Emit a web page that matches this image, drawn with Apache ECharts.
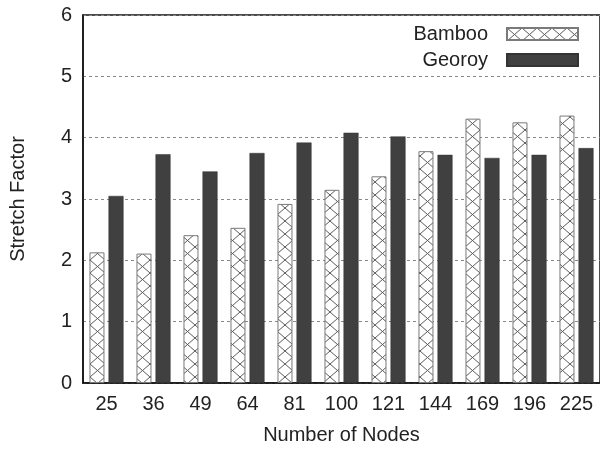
<!DOCTYPE html>
<html>
<head>
<meta charset="utf-8">
<script src="https://cdn.jsdelivr.net/npm/echarts@6/dist/echarts.min.js"></script>
<style>
html,body{margin:0;padding:0;background:#fff;}
#chart{width:600px;height:450px;}
</style>
</head>
<body>
<div id="chart"></div>
<script>
var categories = ['25','36','49','64','81','100','121','144','169','196','225'];
var bamboo = [2.13, 2.11, 2.41, 2.53, 2.92, 3.15, 3.37, 3.78, 4.31, 4.25, 4.36];
var georoy = [3.05, 3.73, 3.45, 3.75, 3.92, 4.08, 4.02, 3.72, 3.67, 3.72, 3.83];
var yTicks = [0, 1, 2, 3, 4, 5, 6];

function makeHatch() {
  var c = document.createElement('canvas');
  var w = 15, h = 13;
  c.width = w; c.height = h;
  var ctx = c.getContext('2d');
  ctx.fillStyle = '#ffffff';
  ctx.fillRect(0, 0, w, h);
  ctx.strokeStyle = '#5a5a5a';
  ctx.lineWidth = 1;
  ctx.beginPath();
  for (var k = -1; k <= 1; k++) {
    ctx.moveTo(k * w, 0); ctx.lineTo(k * w + w, h);
    ctx.moveTo(k * w + w, 0); ctx.lineTo(k * w, h);
  }
  ctx.stroke();
  return c;
}
var hatch = makeHatch();
var font = '"Liberation Sans", Arial, Helvetica, sans-serif';
var fs = 20;

var chart = echarts.init(document.getElementById('chart'), null, {renderer: 'canvas'});
chart.setOption({
  animation: false,
  backgroundColor: '#ffffff',
  textStyle: {fontFamily: font},
  grid: {
    left: 83, top: 15, width: 520, height: 368,
    show: true, borderColor: '#111', borderWidth: 1.5, backgroundColor: 'transparent'
  },
  legend: {
    orient: 'vertical',
    align: 'right',
    right: 16,
    top: 19,
    padding: 5,
    itemWidth: 71,
    itemHeight: 12,
    itemGap: 6,
    icon: 'rect',
    textStyle: {fontSize: fs, color: '#222', fontFamily: font, width: 78, align: 'right', padding: [0, 14, 0, 0]},
    data: ['Bamboo', 'Georoy']
  },
  xAxis: {
    type: 'category',
    data: categories,
    axisTick: {show: false},
    axisLine: {lineStyle: {color: '#111', width: 1.5}},
    axisLabel: {fontSize: fs, color: '#222', margin: 11, fontFamily: font},
    name: 'Number of Nodes',
    nameLocation: 'middle',
    nameGap: 42,
    nameTextStyle: {fontSize: fs, color: '#222', fontFamily: font},
    splitLine: {show: false}
  },
  yAxis: {
    type: 'value',
    min: yTicks[0],
    max: yTicks[yTicks.length - 1],
    interval: 1,
    axisLine: {show: true, lineStyle: {color: '#111', width: 1.5}},
    axisTick: {show: false},
    axisLabel: {fontSize: fs, color: '#222', margin: 11, fontFamily: font},
    splitLine: {show: true, lineStyle: {color: '#888', type: [3, 3], width: 1}},
    name: 'Stretch Factor',
    nameLocation: 'middle',
    nameGap: 55,
    nameTextStyle: {fontSize: fs, color: '#222', fontFamily: font}
  },
  series: [
    {
      name: 'Bamboo',
      type: 'bar',
      data: bamboo,
      barWidth: 15,
      barGap: '27%',
      itemStyle: {
        color: {image: hatch, repeat: 'repeat'},
        borderColor: '#7a7a7a',
        borderWidth: 1
      }
    },
    {
      name: 'Georoy',
      type: 'bar',
      data: georoy,
      barWidth: 15,
      itemStyle: {color: '#404040', borderColor: '#333', borderWidth: 0.5}
    }
  ]
});
</script>
</body>
</html>
